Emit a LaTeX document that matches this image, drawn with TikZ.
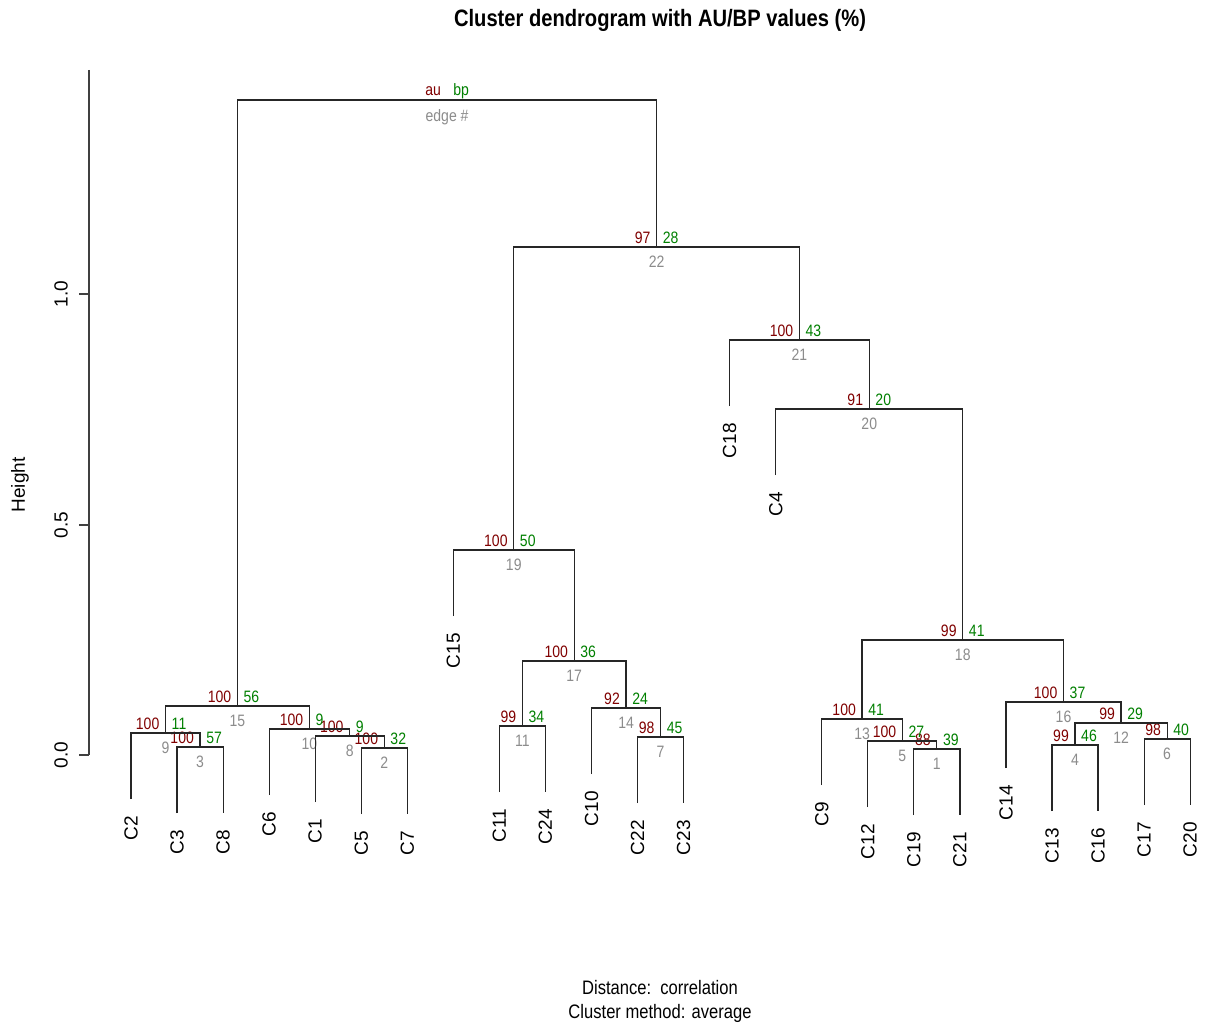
\documentclass[tikz,border=0pt]{standalone}
\usepackage{fontspec}
\setmainfont{Liberation Sans}
\newfontfamily\condf[FakeStretch=0.85]{Liberation Sans}
\definecolor{aucol}{RGB}{128,0,0}
\definecolor{bpcol}{RGB}{0,128,0}
\definecolor{edcol}{RGB}{140,140,140}
\newcommand\pvlab[6]{%
  \coordinate (m#1) at (#2,#3);
  \node[aulab] (au#1) at (#2-6,#3-4) {#4};
  \node[bplab] (bp#1) at (#2+6,#3-4) {#5};
  \node[edlab] (ed#1) at (#2,#3+9) {#6};}
\newcommand\leafat[3]{%
  \coordinate (t#1) at (#2,#3+66);
  \node[leaflab] (#1) at (#2,#3+83) {#1};}
\tikzset{
  branch/.style={draw=black!85, line width=1.2pt},
  leaflab/.style={rotate=90, anchor=east, inner sep=0pt, font=\fontsize{19}{19}\selectfont},
  aulab/.style={anchor=base east, inner sep=0pt, text=aucol, font=\condf\fontsize{16.5}{17}\selectfont},
  bplab/.style={anchor=base west, inner sep=0pt, text=bpcol, font=\condf\fontsize{16.5}{17}\selectfont},
  edlab/.style={anchor=north, inner sep=0pt, text=edcol, font=\condf\fontsize{16.5}{17}\selectfont},
  ticklab/.style={rotate=90, inner sep=0pt, font=\fontsize{19}{19}\selectfont},
  plaintext/.style={inner sep=0pt, font=\condf\fontsize{19.5}{20}\selectfont},
}
\begin{document}
\begin{tikzpicture}[x=1pt,y=-1pt]
\useasboundingbox[fill=white] (0,0) rectangle (1206,1027);
% title and captions
\node[plaintext, font=\condf\bfseries\fontsize{23.7}{24}\selectfont] (title) at (660,20) {Cluster dendrogram with AU/BP values (\%)};
\node[plaintext] (dist) at (660,988) {Distance:\ \ correlation};
\node[plaintext] (meth) at (660,1013) {Cluster method: average};
% axis
\coordinate (axtop) at (89,70);
\coordinate (axbot) at (89,755);
\draw[draw=black!75, line width=1.2pt] (axtop) -- (axbot);
\foreach \yy/\lab in {755/0.0, 525/0.5, 294/1.0}{
  \draw[draw=black!75, line width=1.2pt] (79,\yy) -- (89,\yy);
  \node[ticklab] (tick\lab) at (61,\yy) {\lab};
}
\node[ticklab] (ylab) at (20,485) {Height};
% merge points with au/bp/edge labels
\pvlab{1}{936.875}{749}{88}{39}{1}
\pvlab{2}{384.275}{748}{100}{32}{2}
\pvlab{3}{200.075}{747}{100}{57}{3}
\pvlab{4}{1075.025}{745}{99}{46}{4}
\pvlab{5}{902.34}{741}{100}{27}{5}
\pvlab{6}{1167.125}{739}{98}{40}{6}
\pvlab{7}{660.575}{737}{98}{45}{7}
\pvlab{8}{349.74}{736}{100}{9}{8}
\pvlab{9}{165.54}{733}{100}{11}{9}
\pvlab{10}{309.44}{729}{100}{9}{10}
\pvlab{11}{522.425}{726}{99}{34}{11}
\pvlab{12}{1121.075}{723}{99}{29}{12}
\pvlab{13}{862.045}{719}{100}{41}{13}
\pvlab{14}{626.04}{708}{92}{24}{14}
\pvlab{15}{237.49}{706}{100}{56}{15}
\pvlab{16}{1063.51}{702}{100}{37}{16}
\pvlab{17}{574.23}{661}{100}{36}{17}
\pvlab{18}{962.78}{640}{99}{41}{18}
\pvlab{19}{513.79}{550}{100}{50}{19}
\pvlab{20}{869.24}{409}{91}{20}{20}
\pvlab{21}{799.45}{340}{100}{43}{21}
\pvlab{22}{656.62}{247}{97}{28}{22}
\pvlab{23}{447.06}{100}{au}{bp}{edge \#}
% leaves
\leafat{C2}{131.00}{733}
\leafat{C3}{177.05}{747}
\leafat{C8}{223.10}{747}
\leafat{C6}{269.15}{729}
\leafat{C1}{315.20}{736}
\leafat{C5}{361.25}{748}
\leafat{C7}{407.30}{748}
\leafat{C15}{453.35}{550}
\leafat{C11}{499.40}{726}
\leafat{C24}{545.45}{726}
\leafat{C10}{591.50}{708}
\leafat{C22}{637.55}{737}
\leafat{C23}{683.60}{737}
\leafat{C18}{729.65}{340}
\leafat{C4}{775.70}{409}
\leafat{C9}{821.75}{719}
\leafat{C12}{867.80}{741}
\leafat{C19}{913.85}{749}
\leafat{C21}{959.90}{749}
\leafat{C14}{1005.95}{702}
\leafat{C13}{1052.00}{745}
\leafat{C16}{1098.05}{745}
\leafat{C17}{1144.10}{739}
\leafat{C20}{1190.15}{739}
% branches
\draw[branch] (tC19) |- (m1) -| (tC21);
\draw[branch] (tC5) |- (m2) -| (tC7);
\draw[branch] (tC3) |- (m3) -| (tC8);
\draw[branch] (tC13) |- (m4) -| (tC16);
\draw[branch] (tC12) |- (m5) -| (m1);
\draw[branch] (tC17) |- (m6) -| (tC20);
\draw[branch] (tC22) |- (m7) -| (tC23);
\draw[branch] (tC1) |- (m8) -| (m2);
\draw[branch] (tC2) |- (m9) -| (m3);
\draw[branch] (tC6) |- (m10) -| (m8);
\draw[branch] (tC11) |- (m11) -| (tC24);
\draw[branch] (m4) |- (m12) -| (m6);
\draw[branch] (tC9) |- (m13) -| (m5);
\draw[branch] (tC10) |- (m14) -| (m7);
\draw[branch] (m9) |- (m15) -| (m10);
\draw[branch] (tC14) |- (m16) -| (m12);
\draw[branch] (m11) |- (m17) -| (m14);
\draw[branch] (m13) |- (m18) -| (m16);
\draw[branch] (tC15) |- (m19) -| (m17);
\draw[branch] (tC4) |- (m20) -| (m18);
\draw[branch] (tC18) |- (m21) -| (m20);
\draw[branch] (m19) |- (m22) -| (m21);
\draw[branch] (m15) |- (m23) -| (m22);
\end{tikzpicture}
\end{document}
